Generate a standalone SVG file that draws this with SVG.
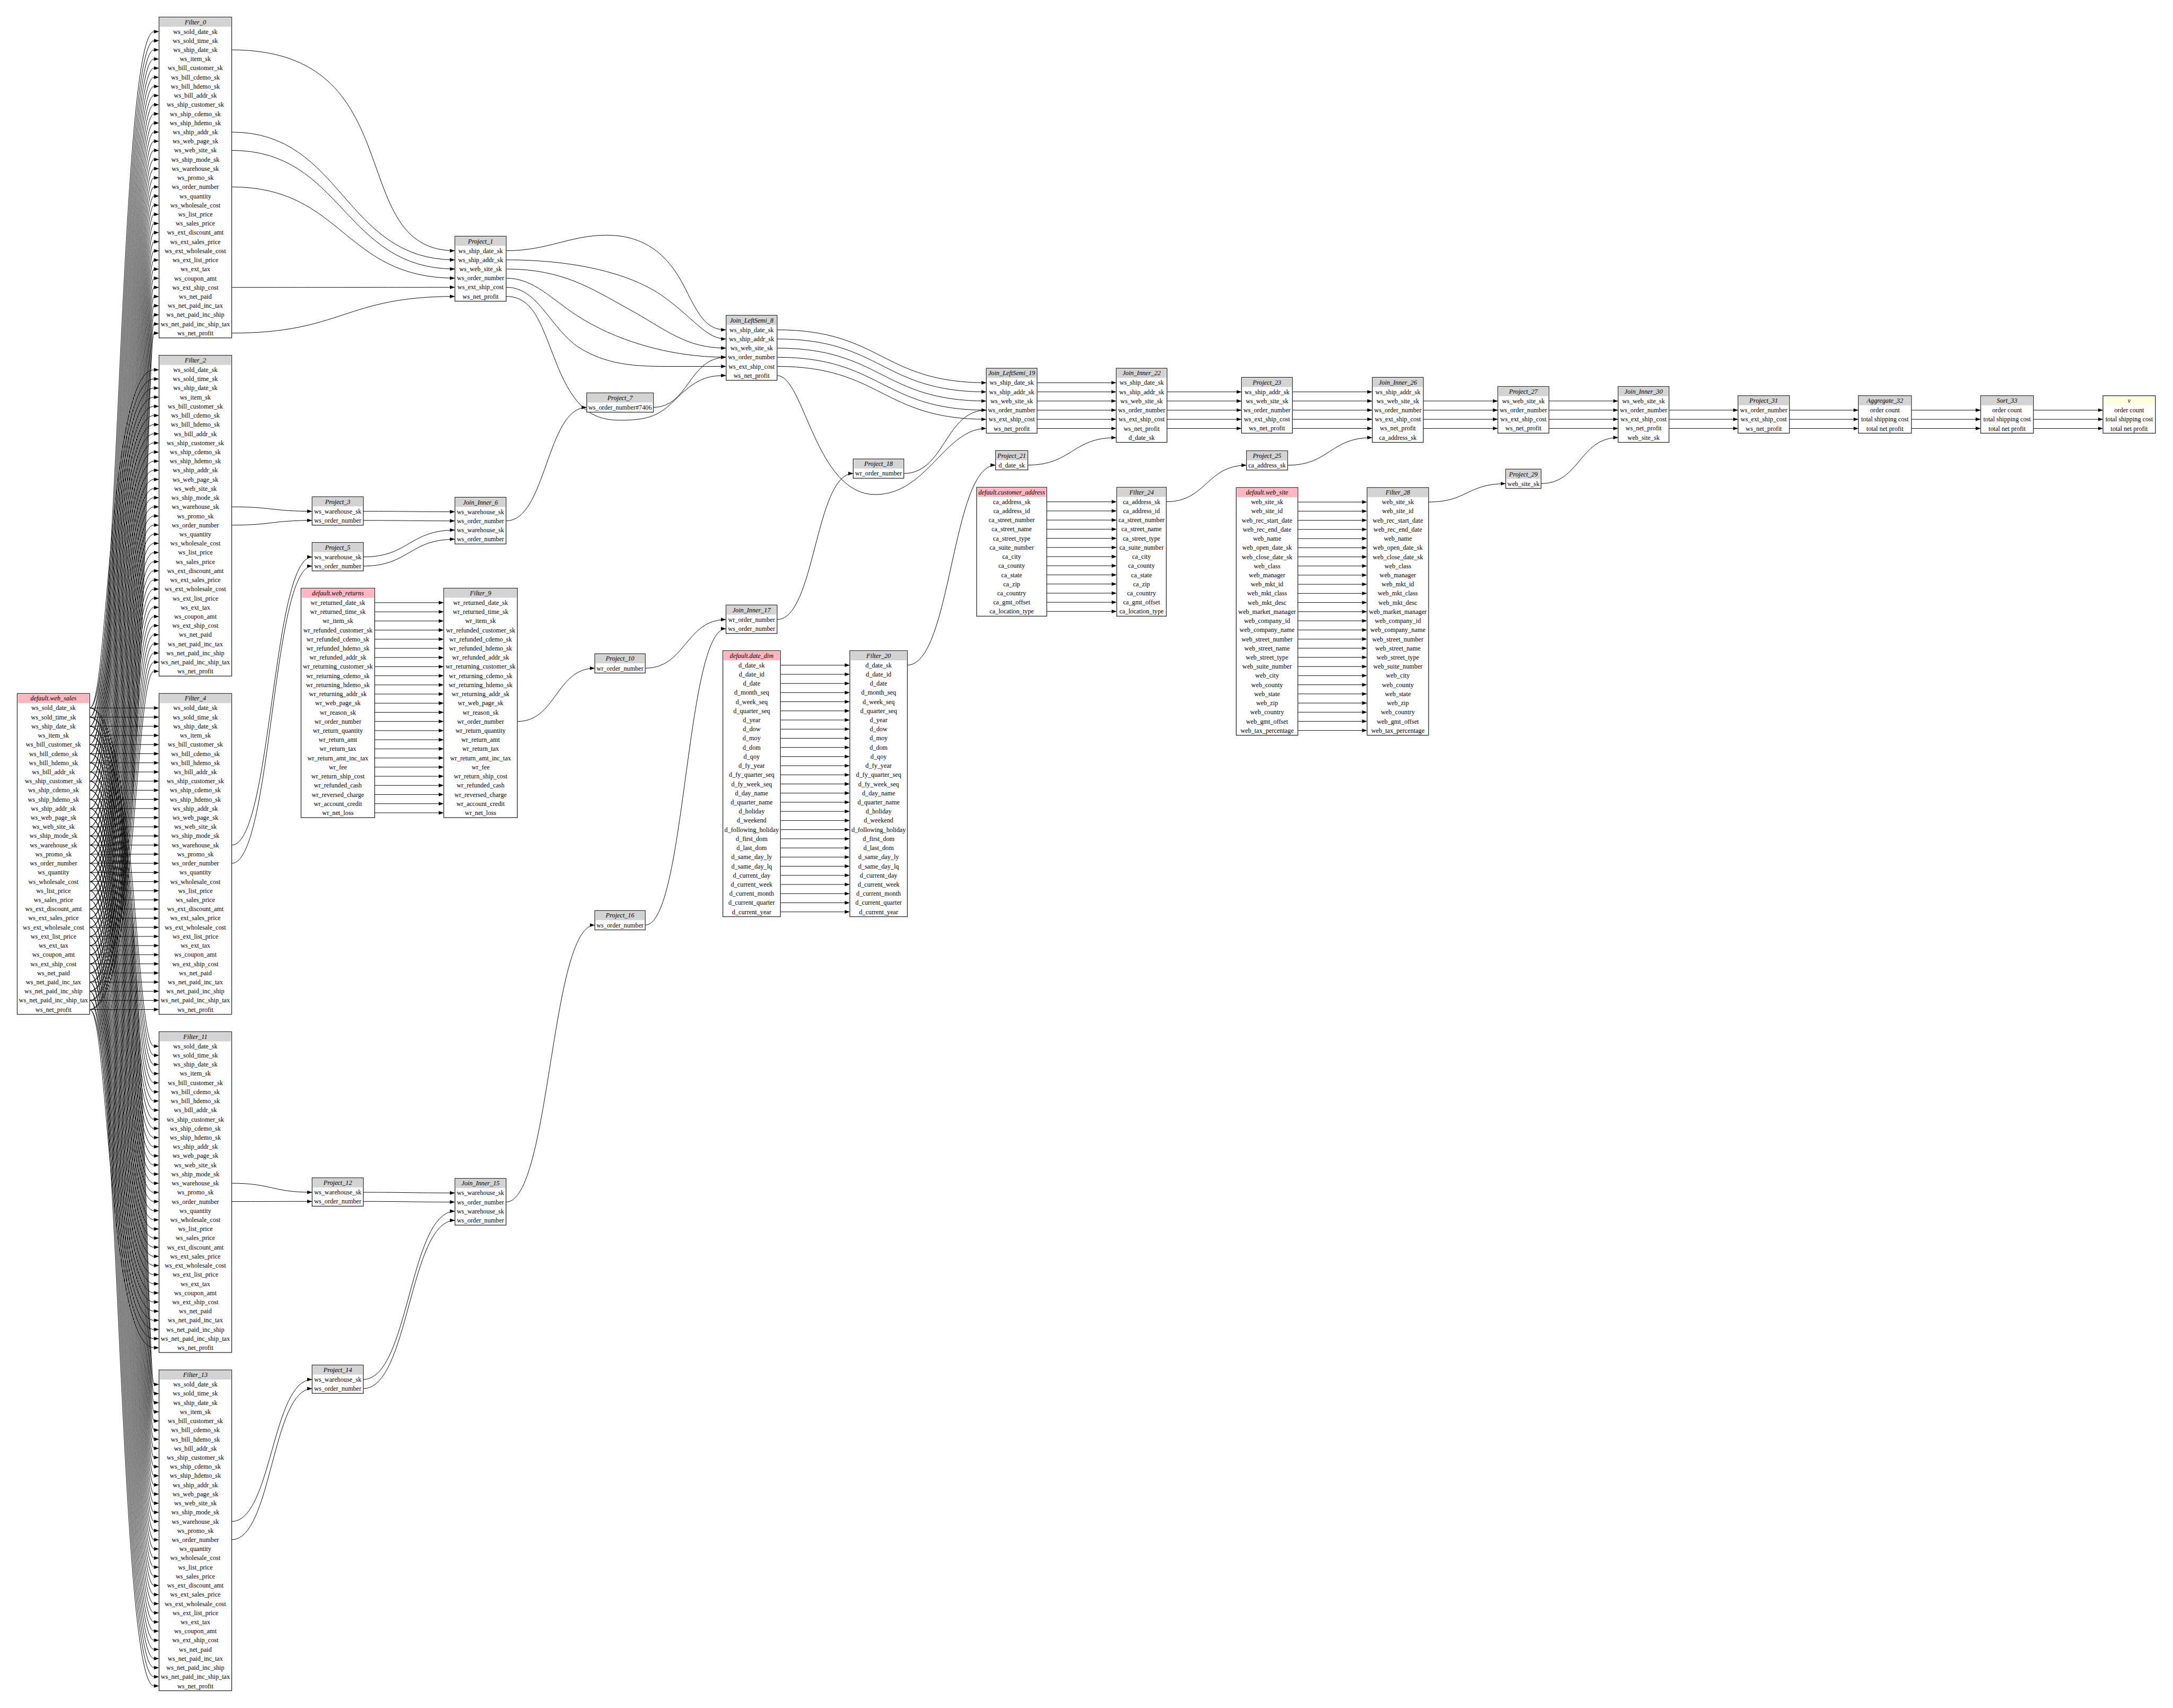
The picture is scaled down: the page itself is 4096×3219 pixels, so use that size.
<svg xmlns="http://www.w3.org/2000/svg" xmlns:xlink="http://www.w3.org/1999/xlink" width="4096" height="3219" viewBox="0 0 4096 3219">
<style>
.bx{fill:#fff;stroke:#333;stroke-width:2}
.hg{fill:#d3d3d3}.hp{fill:#ffb6c1}.hy{fill:#ffffe0}
text{font-family:"Liberation Serif","Times New Roman",serif;font-size:18px;text-anchor:middle;fill:#000}
.ti{font-style:italic}
.e{fill:none;stroke:#000;stroke-width:1.4;marker-end:url(#ah)}
.ln{fill:none;stroke:#000;stroke-width:1.4}
.ar{fill:#000}
</style>
<defs>
<marker id="ah" viewBox="0 0 14 10" refX="14" refY="5" markerWidth="14" markerHeight="10" markerUnits="userSpaceOnUse" orient="auto"><path d="M0,0L14,5L0,10z"/></marker>
<path id="a34" class="ar" d="M0,-5l14,5-14,5z
m0,25.33l14,5-14,5zm0,25.33l14,5-14,5zm0,25.33l14,5-14,5zm0,25.33l14,5-14,5zm0,25.33l14,5-14,5z
m0,25.33l14,5-14,5zm0,25.33l14,5-14,5zm0,25.33l14,5-14,5zm0,25.33l14,5-14,5zm0,25.33l14,5-14,5z
m0,25.33l14,5-14,5zm0,25.33l14,5-14,5zm0,25.33l14,5-14,5zm0,25.33l14,5-14,5zm0,25.33l14,5-14,5z
m0,25.33l14,5-14,5zm0,25.33l14,5-14,5zm0,25.33l14,5-14,5zm0,25.33l14,5-14,5zm0,25.33l14,5-14,5z
m0,25.33l14,5-14,5zm0,25.33l14,5-14,5zm0,25.33l14,5-14,5zm0,25.33l14,5-14,5zm0,25.33l14,5-14,5z
m0,25.33l14,5-14,5zm0,25.33l14,5-14,5zm0,25.33l14,5-14,5zm0,25.33l14,5-14,5zm0,25.33l14,5-14,5z
m0,25.33l14,5-14,5zm0,25.33l14,5-14,5zm0,25.33l14,5-14,5z"/>
<path id="a28" class="ar" d="M0,-5l14,5-14,5z
m0,25.33l14,5-14,5zm0,25.33l14,5-14,5zm0,25.33l14,5-14,5zm0,25.33l14,5-14,5zm0,25.33l14,5-14,5z
m0,25.33l14,5-14,5zm0,25.33l14,5-14,5zm0,25.33l14,5-14,5zm0,25.33l14,5-14,5zm0,25.33l14,5-14,5z
m0,25.33l14,5-14,5zm0,25.33l14,5-14,5zm0,25.33l14,5-14,5zm0,25.33l14,5-14,5zm0,25.33l14,5-14,5z
m0,25.33l14,5-14,5zm0,25.33l14,5-14,5zm0,25.33l14,5-14,5zm0,25.33l14,5-14,5zm0,25.33l14,5-14,5z
m0,25.33l14,5-14,5zm0,25.33l14,5-14,5zm0,25.33l14,5-14,5zm0,25.33l14,5-14,5zm0,25.33l14,5-14,5z
m0,25.33l14,5-14,5zm0,25.33l14,5-14,5z"/>
<path id="a26" class="ar" d="M0,-5l14,5-14,5z
m0,25.33l14,5-14,5zm0,25.33l14,5-14,5zm0,25.33l14,5-14,5zm0,25.33l14,5-14,5zm0,25.33l14,5-14,5z
m0,25.33l14,5-14,5zm0,25.33l14,5-14,5zm0,25.33l14,5-14,5zm0,25.33l14,5-14,5zm0,25.33l14,5-14,5z
m0,25.33l14,5-14,5zm0,25.33l14,5-14,5zm0,25.33l14,5-14,5zm0,25.33l14,5-14,5zm0,25.33l14,5-14,5z
m0,25.33l14,5-14,5zm0,25.33l14,5-14,5zm0,25.33l14,5-14,5zm0,25.33l14,5-14,5zm0,25.33l14,5-14,5z
m0,25.33l14,5-14,5zm0,25.33l14,5-14,5zm0,25.33l14,5-14,5zm0,25.33l14,5-14,5zm0,25.33l14,5-14,5z"/>
<path id="a24" class="ar" d="M0,-5l14,5-14,5z
m0,25.33l14,5-14,5zm0,25.33l14,5-14,5zm0,25.33l14,5-14,5zm0,25.33l14,5-14,5zm0,25.33l14,5-14,5z
m0,25.33l14,5-14,5zm0,25.33l14,5-14,5zm0,25.33l14,5-14,5zm0,25.33l14,5-14,5zm0,25.33l14,5-14,5z
m0,25.33l14,5-14,5zm0,25.33l14,5-14,5zm0,25.33l14,5-14,5zm0,25.33l14,5-14,5zm0,25.33l14,5-14,5z
m0,25.33l14,5-14,5zm0,25.33l14,5-14,5zm0,25.33l14,5-14,5zm0,25.33l14,5-14,5zm0,25.33l14,5-14,5z
m0,25.33l14,5-14,5zm0,25.33l14,5-14,5zm0,25.33l14,5-14,5z"/>
<path id="a13" class="ar" d="M0,-5l14,5-14,5z
m0,25.33l14,5-14,5zm0,25.33l14,5-14,5zm0,25.33l14,5-14,5zm0,25.33l14,5-14,5zm0,25.33l14,5-14,5z
m0,25.33l14,5-14,5zm0,25.33l14,5-14,5zm0,25.33l14,5-14,5zm0,25.33l14,5-14,5zm0,25.33l14,5-14,5z
m0,25.33l14,5-14,5zm0,25.33l14,5-14,5z"/>
</defs>
<rect width="4096" height="3219" fill="#fff"/>
<g transform="scale(0.67983)">
<g id="connectors">
<path class="ln" d="M248.6,1962.77c81.4,0 81.4,-1875.2 178.4,-1875.2
m-178.4,1900.53c83.7,0 83.7,-1875.2 178.4,-1875.2m-178.4,1900.53c86,0 86,-1875.2 178.4,-1875.2
m-178.4,1900.53c88.2,0 88.2,-1875.2 178.4,-1875.2m-178.4,1900.53c90.5,0 90.5,-1875.2 178.4,-1875.2
m-178.4,1900.53c92.8,0 92.8,-1875.2 178.4,-1875.2m-178.4,1900.53c95,0 95,-1875.2 178.4,-1875.2
m-178.4,1900.53c97.3,0 97.3,-1875.2 178.4,-1875.2m-178.4,1900.53c99.6,0 99.6,-1875.2 178.4,-1875.2
m-178.4,1900.53c101.9,0 101.9,-1875.2 178.4,-1875.2m-178.4,1900.53c104.1,0 104.1,-1875.2 178.4,-1875.2
m-178.4,1900.53c106.4,0 106.4,-1875.2 178.4,-1875.2m-178.4,1900.53c108.7,0 108.7,-1875.2 178.4,-1875.2
m-178.4,1900.53c110.9,0 110.9,-1875.2 178.4,-1875.2m-178.4,1900.53c113.2,0 113.2,-1875.2 178.4,-1875.2
m-178.4,1900.53c115.5,0 115.5,-1875.2 178.4,-1875.2m-178.4,1900.53c117.8,0 117.8,-1875.2 178.4,-1875.2
m-178.4,1900.53c120,0 120,-1875.2 178.4,-1875.2m-178.4,1900.53c122.3,0 122.3,-1875.2 178.4,-1875.2
m-178.4,1900.53c124.6,0 124.6,-1875.2 178.4,-1875.2m-178.4,1900.53c126.9,0 126.9,-1875.2 178.4,-1875.2
m-178.4,1900.53c129.1,0 129.1,-1875.2 178.4,-1875.2m-178.4,1900.53c131.4,0 131.4,-1875.2 178.4,-1875.2
m-178.4,1900.53c133.7,0 133.7,-1875.2 178.4,-1875.2m-178.4,1900.53c135.9,0 135.9,-1875.2 178.4,-1875.2
m-178.4,1900.53c138.2,0 138.2,-1875.2 178.4,-1875.2m-178.4,1900.53c140.5,0 140.5,-1875.2 178.4,-1875.2
m-178.4,1900.53c142.8,0 142.8,-1875.2 178.4,-1875.2m-178.4,1900.53c145,0 145,-1875.2 178.4,-1875.2
m-178.4,1900.53c147.3,0 147.3,-1875.2 178.4,-1875.2m-178.4,1900.53c149.6,0 149.6,-1875.2 178.4,-1875.2
m-178.4,1900.53c151.9,0 151.9,-1875.2 178.4,-1875.2m-178.4,1900.53c154.1,0 154.1,-1875.2 178.4,-1875.2
m-178.4,1900.53c156.4,0 156.4,-1875.2 178.4,-1875.2"/>
<path class="ln" d="M248.6,1962.77c51.4,0 51.4,-937.6 178.4,-937.6
m-178.4,962.93c53.7,0 53.7,-937.6 178.4,-937.6m-178.4,962.93c56,0 56,-937.6 178.4,-937.6
m-178.4,962.93c58.2,0 58.2,-937.6 178.4,-937.6m-178.4,962.93c60.5,0 60.5,-937.6 178.4,-937.6
m-178.4,962.93c62.8,0 62.8,-937.6 178.4,-937.6m-178.4,962.93c65,0 65,-937.6 178.4,-937.6
m-178.4,962.93c67.3,0 67.3,-937.6 178.4,-937.6m-178.4,962.93c69.6,0 69.6,-937.6 178.4,-937.6
m-178.4,962.93c71.9,0 71.9,-937.6 178.4,-937.6m-178.4,962.93c74.1,0 74.1,-937.6 178.4,-937.6
m-178.4,962.93c76.4,0 76.4,-937.6 178.4,-937.6m-178.4,962.93c78.7,0 78.7,-937.6 178.4,-937.6
m-178.4,962.93c80.9,0 80.9,-937.6 178.4,-937.6m-178.4,962.93c83.2,0 83.2,-937.6 178.4,-937.6
m-178.4,962.93c85.5,0 85.5,-937.6 178.4,-937.6m-178.4,962.93c87.8,0 87.8,-937.6 178.4,-937.6
m-178.4,962.93c90,0 90,-937.6 178.4,-937.6m-178.4,962.93c92.3,0 92.3,-937.6 178.4,-937.6
m-178.4,962.93c94.6,0 94.6,-937.6 178.4,-937.6m-178.4,962.93c96.9,0 96.9,-937.6 178.4,-937.6
m-178.4,962.93c99.1,0 99.1,-937.6 178.4,-937.6m-178.4,962.93c101.4,0 101.4,-937.6 178.4,-937.6
m-178.4,962.93c103.7,0 103.7,-937.6 178.4,-937.6m-178.4,962.93c105.9,0 105.9,-937.6 178.4,-937.6
m-178.4,962.93c108.2,0 108.2,-937.6 178.4,-937.6m-178.4,962.93c110.5,0 110.5,-937.6 178.4,-937.6
m-178.4,962.93c112.8,0 112.8,-937.6 178.4,-937.6m-178.4,962.93c115,0 115,-937.6 178.4,-937.6
m-178.4,962.93c117.3,0 117.3,-937.6 178.4,-937.6m-178.4,962.93c119.6,0 119.6,-937.6 178.4,-937.6
m-178.4,962.93c121.9,0 121.9,-937.6 178.4,-937.6m-178.4,962.93c124.1,0 124.1,-937.6 178.4,-937.6
m-178.4,962.93c126.4,0 126.4,-937.6 178.4,-937.6"/>
<path class="ln" d="M248.6,1962.77h178.4
m-178.4,25.33h178.4m-178.4,25.33h178.4m-178.4,25.33h178.4m-178.4,25.33h178.4m-178.4,25.33h178.4
m-178.4,25.33h178.4m-178.4,25.33h178.4m-178.4,25.33h178.4m-178.4,25.33h178.4m-178.4,25.33h178.4
m-178.4,25.33h178.4m-178.4,25.33h178.4m-178.4,25.33h178.4m-178.4,25.33h178.4m-178.4,25.33h178.4
m-178.4,25.33h178.4m-178.4,25.33h178.4m-178.4,25.33h178.4m-178.4,25.33h178.4m-178.4,25.33h178.4
m-178.4,25.33h178.4m-178.4,25.33h178.4m-178.4,25.33h178.4m-178.4,25.33h178.4m-178.4,25.33h178.4
m-178.4,25.33h178.4m-178.4,25.33h178.4m-178.4,25.33h178.4m-178.4,25.33h178.4m-178.4,25.33h178.4
m-178.4,25.33h178.4m-178.4,25.33h178.4m-178.4,25.33h178.4"/>
<path class="ln" d="M248.6,1962.77c126.4,0 126.4,937.6 178.4,937.6
m-178.4,-912.27c124.1,0 124.1,937.6 178.4,937.6m-178.4,-912.27c121.9,0 121.9,937.6 178.4,937.6
m-178.4,-912.27c119.6,0 119.6,937.6 178.4,937.6m-178.4,-912.27c117.3,0 117.3,937.6 178.4,937.6
m-178.4,-912.27c115,0 115,937.6 178.4,937.6m-178.4,-912.27c112.8,0 112.8,937.6 178.4,937.6
m-178.4,-912.27c110.5,0 110.5,937.6 178.4,937.6m-178.4,-912.27c108.2,0 108.2,937.6 178.4,937.6
m-178.4,-912.27c105.9,0 105.9,937.6 178.4,937.6m-178.4,-912.27c103.7,0 103.7,937.6 178.4,937.6
m-178.4,-912.27c101.4,0 101.4,937.6 178.4,937.6m-178.4,-912.27c99.1,0 99.1,937.6 178.4,937.6
m-178.4,-912.27c96.9,0 96.9,937.6 178.4,937.6m-178.4,-912.27c94.6,0 94.6,937.6 178.4,937.6
m-178.4,-912.27c92.3,0 92.3,937.6 178.4,937.6m-178.4,-912.27c90,0 90,937.6 178.4,937.6
m-178.4,-912.27c87.8,0 87.8,937.6 178.4,937.6m-178.4,-912.27c85.5,0 85.5,937.6 178.4,937.6
m-178.4,-912.27c83.2,0 83.2,937.6 178.4,937.6m-178.4,-912.27c80.9,0 80.9,937.6 178.4,937.6
m-178.4,-912.27c78.7,0 78.7,937.6 178.4,937.6m-178.4,-912.27c76.4,0 76.4,937.6 178.4,937.6
m-178.4,-912.27c74.1,0 74.1,937.6 178.4,937.6m-178.4,-912.27c71.9,0 71.9,937.6 178.4,937.6
m-178.4,-912.27c69.6,0 69.6,937.6 178.4,937.6m-178.4,-912.27c67.3,0 67.3,937.6 178.4,937.6
m-178.4,-912.27c65,0 65,937.6 178.4,937.6m-178.4,-912.27c62.8,0 62.8,937.6 178.4,937.6
m-178.4,-912.27c60.5,0 60.5,937.6 178.4,937.6m-178.4,-912.27c58.2,0 58.2,937.6 178.4,937.6
m-178.4,-912.27c56,0 56,937.6 178.4,937.6m-178.4,-912.27c53.7,0 53.7,937.6 178.4,937.6
m-178.4,-912.27c51.4,0 51.4,937.6 178.4,937.6"/>
<path class="ln" d="M248.6,1962.77c156.4,0 156.4,1875.2 178.4,1875.2
m-178.4,-1849.87c154.1,0 154.1,1875.2 178.4,1875.2m-178.4,-1849.87c151.9,0 151.9,1875.2 178.4,1875.2
m-178.4,-1849.87c149.6,0 149.6,1875.2 178.4,1875.2m-178.4,-1849.87c147.3,0 147.3,1875.2 178.4,1875.2
m-178.4,-1849.87c145,0 145,1875.2 178.4,1875.2m-178.4,-1849.87c142.8,0 142.8,1875.2 178.4,1875.2
m-178.4,-1849.87c140.5,0 140.5,1875.2 178.4,1875.2m-178.4,-1849.87c138.2,0 138.2,1875.2 178.4,1875.2
m-178.4,-1849.87c135.9,0 135.9,1875.2 178.4,1875.2m-178.4,-1849.87c133.7,0 133.7,1875.2 178.4,1875.2
m-178.4,-1849.87c131.4,0 131.4,1875.2 178.4,1875.2m-178.4,-1849.87c129.1,0 129.1,1875.2 178.4,1875.2
m-178.4,-1849.87c126.9,0 126.9,1875.2 178.4,1875.2m-178.4,-1849.87c124.6,0 124.6,1875.2 178.4,1875.2
m-178.4,-1849.87c122.3,0 122.3,1875.2 178.4,1875.2m-178.4,-1849.87c120,0 120,1875.2 178.4,1875.2
m-178.4,-1849.87c117.8,0 117.8,1875.2 178.4,1875.2m-178.4,-1849.87c115.5,0 115.5,1875.2 178.4,1875.2
m-178.4,-1849.87c113.2,0 113.2,1875.2 178.4,1875.2m-178.4,-1849.87c110.9,0 110.9,1875.2 178.4,1875.2
m-178.4,-1849.87c108.7,0 108.7,1875.2 178.4,1875.2m-178.4,-1849.87c106.4,0 106.4,1875.2 178.4,1875.2
m-178.4,-1849.87c104.1,0 104.1,1875.2 178.4,1875.2m-178.4,-1849.87c101.9,0 101.9,1875.2 178.4,1875.2
m-178.4,-1849.87c99.6,0 99.6,1875.2 178.4,1875.2m-178.4,-1849.87c97.3,0 97.3,1875.2 178.4,1875.2
m-178.4,-1849.87c95,0 95,1875.2 178.4,1875.2m-178.4,-1849.87c92.8,0 92.8,1875.2 178.4,1875.2
m-178.4,-1849.87c90.5,0 90.5,1875.2 178.4,1875.2m-178.4,-1849.87c88.2,0 88.2,1875.2 178.4,1875.2
m-178.4,-1849.87c86,0 86,1875.2 178.4,1875.2m-178.4,-1849.87c83.7,0 83.7,1875.2 178.4,1875.2
m-178.4,-1849.87c81.4,0 81.4,1875.2 178.4,1875.2"/>
<use href="#a34" x="427" y="87.57"/>
<use href="#a34" x="427" y="1025.17"/>
<use href="#a34" x="427" y="1962.77"/>
<use href="#a34" x="427" y="2900.37"/>
<use href="#a34" x="427" y="3837.97"/>
<path class="ln" d="M1038.9,1670.77h177.5
m-177.5,25.33h177.5m-177.5,25.33h177.5m-177.5,25.33h177.5m-177.5,25.33h177.5m-177.5,25.33h177.5
m-177.5,25.33h177.5m-177.5,25.33h177.5m-177.5,25.33h177.5m-177.5,25.33h177.5m-177.5,25.33h177.5
m-177.5,25.33h177.5m-177.5,25.33h177.5m-177.5,25.33h177.5m-177.5,25.33h177.5m-177.5,25.33h177.5
m-177.5,25.33h177.5m-177.5,25.33h177.5m-177.5,25.33h177.5m-177.5,25.33h177.5m-177.5,25.33h177.5
m-177.5,25.33h177.5m-177.5,25.33h177.5m-177.5,25.33h177.5"/>
<use href="#a24" x="1216.4" y="1670.77"/>
<path class="ln" d="M2163.9,1844.07h178.4
m-178.4,25.33h178.4m-178.4,25.33h178.4m-178.4,25.33h178.4m-178.4,25.33h178.4m-178.4,25.33h178.4
m-178.4,25.33h178.4m-178.4,25.33h178.4m-178.4,25.33h178.4m-178.4,25.33h178.4m-178.4,25.33h178.4
m-178.4,25.33h178.4m-178.4,25.33h178.4m-178.4,25.33h178.4m-178.4,25.33h178.4m-178.4,25.33h178.4
m-178.4,25.33h178.4m-178.4,25.33h178.4m-178.4,25.33h178.4m-178.4,25.33h178.4m-178.4,25.33h178.4
m-178.4,25.33h178.4m-178.4,25.33h178.4m-178.4,25.33h178.4m-178.4,25.33h178.4m-178.4,25.33h178.4
m-178.4,25.33h178.4m-178.4,25.33h178.4"/>
<use href="#a28" x="2342.3" y="1844.07"/>
<path class="ln" d="M2902.3,1391.07h180.1
m-180.1,25.33h180.1m-180.1,25.33h180.1m-180.1,25.33h180.1m-180.1,25.33h180.1m-180.1,25.33h180.1
m-180.1,25.33h180.1m-180.1,25.33h180.1m-180.1,25.33h180.1m-180.1,25.33h180.1m-180.1,25.33h180.1
m-180.1,25.33h180.1m-180.1,25.33h180.1"/>
<use href="#a13" x="3082.4" y="1391.07"/>
<path class="ln" d="M3598.6,1391.77h178
m-178,25.33h178m-178,25.33h178m-178,25.33h178m-178,25.33h178m-178,25.33h178
m-178,25.33h178m-178,25.33h178m-178,25.33h178m-178,25.33h178m-178,25.33h178
m-178,25.33h178m-178,25.33h178m-178,25.33h178m-178,25.33h178m-178,25.33h178
m-178,25.33h178m-178,25.33h178m-178,25.33h178m-178,25.33h178m-178,25.33h178
m-178,25.33h178m-178,25.33h178m-178,25.33h178m-178,25.33h178m-178,25.33h178"/>
<use href="#a26" x="3776.6" y="1391.77"/>
<path class="e" d="M642.3,138.23C1150,138.23 950,695.07 1261.4,695.07"/>
<path class="e" d="M642.3,366.2C951.9,366.2 951.9,720.4 1261.4,720.4"/>
<path class="e" d="M642.3,416.86C951.9,416.86 951.9,745.73 1261.4,745.73"/>
<path class="e" d="M642.3,518.18C951.9,518.18 951.9,771.06 1261.4,771.06"/>
<path class="e" d="M642.3,796.81C951.9,796.81 951.9,796.4 1261.4,796.4"/>
<path class="e" d="M642.3,923.46C951.9,923.46 951.9,821.73 1261.4,821.73"/>
<path class="e" d="M642.3,1405.12C753.9,1405.12 753.9,1417.37 865.5,1417.37"/>
<path class="e" d="M642.3,1455.78C753.9,1455.78 753.9,1442.7 865.5,1442.7"/>
<path class="e" d="M642.3,2342.72C753.9,2342.72 753.9,1544.07 865.5,1544.07"/>
<path class="e" d="M642.3,2393.38C753.9,2393.38 753.9,1569.4 865.5,1569.4"/>
<path class="e" d="M642.3,3280.32C753.9,3280.32 753.9,3305.37 865.5,3305.37"/>
<path class="e" d="M642.3,3330.98C753.9,3330.98 753.9,3330.7 865.5,3330.7"/>
<path class="e" d="M642.3,4217.92C753.9,4217.92 753.9,3824.27 865.5,3824.27"/>
<path class="e" d="M642.3,4268.58C753.9,4268.58 753.9,3849.6 865.5,3849.6"/>
<path class="e" d="M1007.3,1417.37C1134.4,1417.37 1134.4,1418.77 1261.5,1418.77"/>
<path class="e" d="M1007.3,1442.7C1134.4,1442.7 1134.4,1444.1 1261.5,1444.1"/>
<path class="e" d="M1007.3,1544.07C1134.4,1544.07 1134.4,1469.43 1261.5,1469.43"/>
<path class="e" d="M1007.3,1569.4C1134.4,1569.4 1134.4,1494.76 1261.5,1494.76"/>
<path class="e" d="M1007.3,3305.37C1134.4,3305.37 1134.4,3307.07 1261.5,3307.07"/>
<path class="e" d="M1007.3,3330.7C1134.4,3330.7 1134.4,3332.4 1261.5,3332.4"/>
<path class="e" d="M1007.3,3824.27C1134.4,3824.27 1134.4,3357.73 1261.5,3357.73"/>
<path class="e" d="M1007.3,3849.6C1134.4,3849.6 1134.4,3383.06 1261.5,3383.06"/>
<path class="e" d="M1403,1444.1C1515,1444.1 1515,1129.37 1626.8,1129.37"/>
<path class="e" d="M1403,3332.4C1526,3332.4 1526,2564.57 1649.3,2564.57"/>
<path class="e" d="M1434.5,2000.06C1541.9,2000.06 1541.9,1852.57 1649.3,1852.57"/>
<path class="e" d="M1789,1852.57C1901,1852.57 1901,1717.47 2013,1717.47"/>
<path class="e" d="M1789,2564.57C1901,2564.57 1901,1742.8 2013,1742.8"/>
<path class="e" d="M2154.5,1717.47C2260,1717.47 2260,1312.57 2365.7,1312.57"/>
<path class="e" d="M1403.4,695.07C1520,695.07 1580,652 1682,652C1800,652 1860,720 1900,800C1940,880 1960,914.37 2013.3,914.37"/>
<path class="e" d="M1403.4,720.4C1600,720.4 1760,760 1850,830C1930,890 1960,939.7 2013.3,939.7"/>
<path class="e" d="M1403.4,745.73C1560,745.73 1640,800 1740,855C1850,915 1900,965.03 2013.3,965.03"/>
<path class="e" d="M1403.4,771.06C1480,771.06 1530,830 1600,875C1700,940 1850,990.36 2013.3,990.36"/>
<path class="e" d="M1403.4,796.4C1490,796.4 1520,900 1600,960C1680,1012 1760,1015.69 1850,1015.69L2013.3,1015.69"/>
<path class="e" d="M1403.4,821.73C1480,821.73 1500,900 1540,1000C1590,1130 1640,1165 1720,1165C1800,1165 1830,1150 1870,1110C1930,1050 1960,1041.02 2013.3,1041.02"/>
<path class="e" d="M1811.6,1129.37C1910,1129.37 1910,990.36 2013.3,990.36"/>
<path class="e" d="M2154.5,914.37C2444.6,914.37 2444.6,1061.07 2734.8,1061.07"/>
<path class="e" d="M2154.5,939.7C2444.6,939.7 2444.6,1086.4 2734.8,1086.4"/>
<path class="e" d="M2154.5,965.03C2444.6,965.03 2444.6,1111.73 2734.8,1111.73"/>
<path class="e" d="M2154.5,990.36C2444.6,990.36 2444.6,1137.06 2734.8,1137.06"/>
<path class="e" d="M2154.5,1015.69C2444.6,1015.69 2444.6,1162.39 2734.8,1162.39"/>
<path class="e" d="M2154.5,1041.02C2230,1041.02 2260,1371 2427,1371C2570,1371 2620,1187.72 2734.8,1187.72"/>
<path class="e" d="M2505.9,1312.57C2620,1312.57 2620,1137.06 2734.8,1137.06"/>
<path class="e" d="M2515.9,1844.07C2638,1844.07 2638,1289.37 2760.4,1289.37"/>
<path class="e" d="M2875.4,1061.07H3095"/>
<path class="e" d="M2875.4,1086.4H3095"/>
<path class="e" d="M2875.4,1111.73H3095"/>
<path class="e" d="M2875.4,1137.06H3095"/>
<path class="e" d="M2875.4,1162.39H3095"/>
<path class="e" d="M2875.4,1187.72H3095"/>
<path class="e" d="M2849.9,1289.37C2972,1289.37 2972,1213.05 3095,1213.05"/>
<path class="e" d="M3233.8,1391.07C3345,1391.07 3345,1289.77 3456.2,1289.77"/>
<path class="e" d="M3235.7,1086.4H3442.4"/>
<path class="e" d="M3235.7,1111.73H3442.4"/>
<path class="e" d="M3235.7,1137.06H3442.4"/>
<path class="e" d="M3235.7,1162.39H3442.4"/>
<path class="e" d="M3235.7,1187.72H3442.4"/>
<path class="e" d="M3583.5,1086.37H3805"/>
<path class="e" d="M3583.5,1111.7H3805"/>
<path class="e" d="M3583.5,1137.03H3805"/>
<path class="e" d="M3583.5,1162.36H3805"/>
<path class="e" d="M3583.5,1187.69H3805"/>
<path class="e" d="M3570,1289.77C3687,1289.77 3687,1213.02 3805,1213.02"/>
<path class="e" d="M3961,1391.77C4068,1391.77 4068,1340.77 4175,1340.77"/>
<path class="e" d="M3946.4,1111.7H4153.1"/>
<path class="e" d="M3946.4,1137.03H4153.1"/>
<path class="e" d="M3946.4,1162.36H4153.1"/>
<path class="e" d="M3946.4,1187.69H4153.1"/>
<path class="e" d="M4294.6,1111.67H4486.6"/>
<path class="e" d="M4294.6,1137H4486.6"/>
<path class="e" d="M4294.6,1162.33H4486.6"/>
<path class="e" d="M4294.6,1187.66H4486.6"/>
<path class="e" d="M4272.8,1340.77C4380,1340.77 4380,1212.99 4486.6,1212.99"/>
<path class="e" d="M4627.6,1137H4819"/>
<path class="e" d="M4627.6,1162.33H4819"/>
<path class="e" d="M4627.6,1187.66H4819"/>
<path class="e" d="M4961.5,1137.07H5152.8"/>
<path class="e" d="M4961.5,1162.4H5152.8"/>
<path class="e" d="M4961.5,1187.73H5152.8"/>
<path class="e" d="M5299.7,1137.07H5491.8"/>
<path class="e" d="M5299.7,1162.4H5491.8"/>
<path class="e" d="M5299.7,1187.73H5491.8"/>
<path class="e" d="M5638,1137.07H5830.9"/>
<path class="e" d="M5638,1162.4H5830.9"/>
<path class="e" d="M5638,1187.73H5830.9"/>
</g>

<g id="default.web_sales" transform="translate(148.2,1922.7)">
<rect class="bx" x="-100.4" width="200.8" height="889.22"/><rect class="hp" x="-98.4" y="2" width="196.8" height="24.5"/>
<text class="ti" y="19.5">default.web_sales</text>
<text y="46.07"><tspan x="0">ws_sold_date_sk</tspan><tspan x="0" dy="25.33">ws_sold_time_sk</tspan><tspan x="0" dy="25.33">ws_ship_date_sk</tspan><tspan x="0" dy="25.33">ws_item_sk</tspan><tspan x="0" dy="25.33">ws_bill_customer_sk</tspan><tspan x="0" dy="25.33">ws_bill_cdemo_sk</tspan><tspan x="0" dy="25.33">ws_bill_hdemo_sk</tspan><tspan x="0" dy="25.33">ws_bill_addr_sk</tspan><tspan x="0" dy="25.33">ws_ship_customer_sk</tspan><tspan x="0" dy="25.33">ws_ship_cdemo_sk</tspan><tspan x="0" dy="25.33">ws_ship_hdemo_sk</tspan><tspan x="0" dy="25.33">ws_ship_addr_sk</tspan><tspan x="0" dy="25.33">ws_web_page_sk</tspan><tspan x="0" dy="25.33">ws_web_site_sk</tspan><tspan x="0" dy="25.33">ws_ship_mode_sk</tspan><tspan x="0" dy="25.33">ws_warehouse_sk</tspan><tspan x="0" dy="25.33">ws_promo_sk</tspan><tspan x="0" dy="25.33">ws_order_number</tspan><tspan x="0" dy="25.33">ws_quantity</tspan><tspan x="0" dy="25.33">ws_wholesale_cost</tspan><tspan x="0" dy="25.33">ws_list_price</tspan><tspan x="0" dy="25.33">ws_sales_price</tspan><tspan x="0" dy="25.33">ws_ext_discount_amt</tspan><tspan x="0" dy="25.33">ws_ext_sales_price</tspan><tspan x="0" dy="25.33">ws_ext_wholesale_cost</tspan><tspan x="0" dy="25.33">ws_ext_list_price</tspan><tspan x="0" dy="25.33">ws_ext_tax</tspan><tspan x="0" dy="25.33">ws_coupon_amt</tspan><tspan x="0" dy="25.33">ws_ext_ship_cost</tspan><tspan x="0" dy="25.33">ws_net_paid</tspan><tspan x="0" dy="25.33">ws_net_paid_inc_tax</tspan><tspan x="0" dy="25.33">ws_net_paid_inc_ship</tspan><tspan x="0" dy="25.33">ws_net_paid_inc_ship_tax</tspan><tspan x="0" dy="25.33">ws_net_profit</tspan></text>
</g>

<g id="Filter_0" transform="translate(541.65,47.5)">
<rect class="bx" x="-100.65" width="201.3" height="889.22"/><rect class="hg" x="-98.65" y="2" width="197.3" height="24.5"/>
<text class="ti" y="19.5">Filter_0</text>
<text y="46.07"><tspan x="0">ws_sold_date_sk</tspan><tspan x="0" dy="25.33">ws_sold_time_sk</tspan><tspan x="0" dy="25.33">ws_ship_date_sk</tspan><tspan x="0" dy="25.33">ws_item_sk</tspan><tspan x="0" dy="25.33">ws_bill_customer_sk</tspan><tspan x="0" dy="25.33">ws_bill_cdemo_sk</tspan><tspan x="0" dy="25.33">ws_bill_hdemo_sk</tspan><tspan x="0" dy="25.33">ws_bill_addr_sk</tspan><tspan x="0" dy="25.33">ws_ship_customer_sk</tspan><tspan x="0" dy="25.33">ws_ship_cdemo_sk</tspan><tspan x="0" dy="25.33">ws_ship_hdemo_sk</tspan><tspan x="0" dy="25.33">ws_ship_addr_sk</tspan><tspan x="0" dy="25.33">ws_web_page_sk</tspan><tspan x="0" dy="25.33">ws_web_site_sk</tspan><tspan x="0" dy="25.33">ws_ship_mode_sk</tspan><tspan x="0" dy="25.33">ws_warehouse_sk</tspan><tspan x="0" dy="25.33">ws_promo_sk</tspan><tspan x="0" dy="25.33">ws_order_number</tspan><tspan x="0" dy="25.33">ws_quantity</tspan><tspan x="0" dy="25.33">ws_wholesale_cost</tspan><tspan x="0" dy="25.33">ws_list_price</tspan><tspan x="0" dy="25.33">ws_sales_price</tspan><tspan x="0" dy="25.33">ws_ext_discount_amt</tspan><tspan x="0" dy="25.33">ws_ext_sales_price</tspan><tspan x="0" dy="25.33">ws_ext_wholesale_cost</tspan><tspan x="0" dy="25.33">ws_ext_list_price</tspan><tspan x="0" dy="25.33">ws_ext_tax</tspan><tspan x="0" dy="25.33">ws_coupon_amt</tspan><tspan x="0" dy="25.33">ws_ext_ship_cost</tspan><tspan x="0" dy="25.33">ws_net_paid</tspan><tspan x="0" dy="25.33">ws_net_paid_inc_tax</tspan><tspan x="0" dy="25.33">ws_net_paid_inc_ship</tspan><tspan x="0" dy="25.33">ws_net_paid_inc_ship_tax</tspan><tspan x="0" dy="25.33">ws_net_profit</tspan></text>
</g>

<g id="Filter_2" transform="translate(541.65,985.1)">
<rect class="bx" x="-100.65" width="201.3" height="889.22"/><rect class="hg" x="-98.65" y="2" width="197.3" height="24.5"/>
<text class="ti" y="19.5">Filter_2</text>
<text y="46.07"><tspan x="0">ws_sold_date_sk</tspan><tspan x="0" dy="25.33">ws_sold_time_sk</tspan><tspan x="0" dy="25.33">ws_ship_date_sk</tspan><tspan x="0" dy="25.33">ws_item_sk</tspan><tspan x="0" dy="25.33">ws_bill_customer_sk</tspan><tspan x="0" dy="25.33">ws_bill_cdemo_sk</tspan><tspan x="0" dy="25.33">ws_bill_hdemo_sk</tspan><tspan x="0" dy="25.33">ws_bill_addr_sk</tspan><tspan x="0" dy="25.33">ws_ship_customer_sk</tspan><tspan x="0" dy="25.33">ws_ship_cdemo_sk</tspan><tspan x="0" dy="25.33">ws_ship_hdemo_sk</tspan><tspan x="0" dy="25.33">ws_ship_addr_sk</tspan><tspan x="0" dy="25.33">ws_web_page_sk</tspan><tspan x="0" dy="25.33">ws_web_site_sk</tspan><tspan x="0" dy="25.33">ws_ship_mode_sk</tspan><tspan x="0" dy="25.33">ws_warehouse_sk</tspan><tspan x="0" dy="25.33">ws_promo_sk</tspan><tspan x="0" dy="25.33">ws_order_number</tspan><tspan x="0" dy="25.33">ws_quantity</tspan><tspan x="0" dy="25.33">ws_wholesale_cost</tspan><tspan x="0" dy="25.33">ws_list_price</tspan><tspan x="0" dy="25.33">ws_sales_price</tspan><tspan x="0" dy="25.33">ws_ext_discount_amt</tspan><tspan x="0" dy="25.33">ws_ext_sales_price</tspan><tspan x="0" dy="25.33">ws_ext_wholesale_cost</tspan><tspan x="0" dy="25.33">ws_ext_list_price</tspan><tspan x="0" dy="25.33">ws_ext_tax</tspan><tspan x="0" dy="25.33">ws_coupon_amt</tspan><tspan x="0" dy="25.33">ws_ext_ship_cost</tspan><tspan x="0" dy="25.33">ws_net_paid</tspan><tspan x="0" dy="25.33">ws_net_paid_inc_tax</tspan><tspan x="0" dy="25.33">ws_net_paid_inc_ship</tspan><tspan x="0" dy="25.33">ws_net_paid_inc_ship_tax</tspan><tspan x="0" dy="25.33">ws_net_profit</tspan></text>
</g>

<g id="Filter_4" transform="translate(541.65,1922.7)">
<rect class="bx" x="-100.65" width="201.3" height="889.22"/><rect class="hg" x="-98.65" y="2" width="197.3" height="24.5"/>
<text class="ti" y="19.5">Filter_4</text>
<text y="46.07"><tspan x="0">ws_sold_date_sk</tspan><tspan x="0" dy="25.33">ws_sold_time_sk</tspan><tspan x="0" dy="25.33">ws_ship_date_sk</tspan><tspan x="0" dy="25.33">ws_item_sk</tspan><tspan x="0" dy="25.33">ws_bill_customer_sk</tspan><tspan x="0" dy="25.33">ws_bill_cdemo_sk</tspan><tspan x="0" dy="25.33">ws_bill_hdemo_sk</tspan><tspan x="0" dy="25.33">ws_bill_addr_sk</tspan><tspan x="0" dy="25.33">ws_ship_customer_sk</tspan><tspan x="0" dy="25.33">ws_ship_cdemo_sk</tspan><tspan x="0" dy="25.33">ws_ship_hdemo_sk</tspan><tspan x="0" dy="25.33">ws_ship_addr_sk</tspan><tspan x="0" dy="25.33">ws_web_page_sk</tspan><tspan x="0" dy="25.33">ws_web_site_sk</tspan><tspan x="0" dy="25.33">ws_ship_mode_sk</tspan><tspan x="0" dy="25.33">ws_warehouse_sk</tspan><tspan x="0" dy="25.33">ws_promo_sk</tspan><tspan x="0" dy="25.33">ws_order_number</tspan><tspan x="0" dy="25.33">ws_quantity</tspan><tspan x="0" dy="25.33">ws_wholesale_cost</tspan><tspan x="0" dy="25.33">ws_list_price</tspan><tspan x="0" dy="25.33">ws_sales_price</tspan><tspan x="0" dy="25.33">ws_ext_discount_amt</tspan><tspan x="0" dy="25.33">ws_ext_sales_price</tspan><tspan x="0" dy="25.33">ws_ext_wholesale_cost</tspan><tspan x="0" dy="25.33">ws_ext_list_price</tspan><tspan x="0" dy="25.33">ws_ext_tax</tspan><tspan x="0" dy="25.33">ws_coupon_amt</tspan><tspan x="0" dy="25.33">ws_ext_ship_cost</tspan><tspan x="0" dy="25.33">ws_net_paid</tspan><tspan x="0" dy="25.33">ws_net_paid_inc_tax</tspan><tspan x="0" dy="25.33">ws_net_paid_inc_ship</tspan><tspan x="0" dy="25.33">ws_net_paid_inc_ship_tax</tspan><tspan x="0" dy="25.33">ws_net_profit</tspan></text>
</g>

<g id="Filter_11" transform="translate(541.65,2860.3)">
<rect class="bx" x="-100.65" width="201.3" height="889.22"/><rect class="hg" x="-98.65" y="2" width="197.3" height="24.5"/>
<text class="ti" y="19.5">Filter_11</text>
<text y="46.07"><tspan x="0">ws_sold_date_sk</tspan><tspan x="0" dy="25.33">ws_sold_time_sk</tspan><tspan x="0" dy="25.33">ws_ship_date_sk</tspan><tspan x="0" dy="25.33">ws_item_sk</tspan><tspan x="0" dy="25.33">ws_bill_customer_sk</tspan><tspan x="0" dy="25.33">ws_bill_cdemo_sk</tspan><tspan x="0" dy="25.33">ws_bill_hdemo_sk</tspan><tspan x="0" dy="25.33">ws_bill_addr_sk</tspan><tspan x="0" dy="25.33">ws_ship_customer_sk</tspan><tspan x="0" dy="25.33">ws_ship_cdemo_sk</tspan><tspan x="0" dy="25.33">ws_ship_hdemo_sk</tspan><tspan x="0" dy="25.33">ws_ship_addr_sk</tspan><tspan x="0" dy="25.33">ws_web_page_sk</tspan><tspan x="0" dy="25.33">ws_web_site_sk</tspan><tspan x="0" dy="25.33">ws_ship_mode_sk</tspan><tspan x="0" dy="25.33">ws_warehouse_sk</tspan><tspan x="0" dy="25.33">ws_promo_sk</tspan><tspan x="0" dy="25.33">ws_order_number</tspan><tspan x="0" dy="25.33">ws_quantity</tspan><tspan x="0" dy="25.33">ws_wholesale_cost</tspan><tspan x="0" dy="25.33">ws_list_price</tspan><tspan x="0" dy="25.33">ws_sales_price</tspan><tspan x="0" dy="25.33">ws_ext_discount_amt</tspan><tspan x="0" dy="25.33">ws_ext_sales_price</tspan><tspan x="0" dy="25.33">ws_ext_wholesale_cost</tspan><tspan x="0" dy="25.33">ws_ext_list_price</tspan><tspan x="0" dy="25.33">ws_ext_tax</tspan><tspan x="0" dy="25.33">ws_coupon_amt</tspan><tspan x="0" dy="25.33">ws_ext_ship_cost</tspan><tspan x="0" dy="25.33">ws_net_paid</tspan><tspan x="0" dy="25.33">ws_net_paid_inc_tax</tspan><tspan x="0" dy="25.33">ws_net_paid_inc_ship</tspan><tspan x="0" dy="25.33">ws_net_paid_inc_ship_tax</tspan><tspan x="0" dy="25.33">ws_net_profit</tspan></text>
</g>

<g id="Filter_13" transform="translate(541.65,3797.9)">
<rect class="bx" x="-100.65" width="201.3" height="889.22"/><rect class="hg" x="-98.65" y="2" width="197.3" height="24.5"/>
<text class="ti" y="19.5">Filter_13</text>
<text y="46.07"><tspan x="0">ws_sold_date_sk</tspan><tspan x="0" dy="25.33">ws_sold_time_sk</tspan><tspan x="0" dy="25.33">ws_ship_date_sk</tspan><tspan x="0" dy="25.33">ws_item_sk</tspan><tspan x="0" dy="25.33">ws_bill_customer_sk</tspan><tspan x="0" dy="25.33">ws_bill_cdemo_sk</tspan><tspan x="0" dy="25.33">ws_bill_hdemo_sk</tspan><tspan x="0" dy="25.33">ws_bill_addr_sk</tspan><tspan x="0" dy="25.33">ws_ship_customer_sk</tspan><tspan x="0" dy="25.33">ws_ship_cdemo_sk</tspan><tspan x="0" dy="25.33">ws_ship_hdemo_sk</tspan><tspan x="0" dy="25.33">ws_ship_addr_sk</tspan><tspan x="0" dy="25.33">ws_web_page_sk</tspan><tspan x="0" dy="25.33">ws_web_site_sk</tspan><tspan x="0" dy="25.33">ws_ship_mode_sk</tspan><tspan x="0" dy="25.33">ws_warehouse_sk</tspan><tspan x="0" dy="25.33">ws_promo_sk</tspan><tspan x="0" dy="25.33">ws_order_number</tspan><tspan x="0" dy="25.33">ws_quantity</tspan><tspan x="0" dy="25.33">ws_wholesale_cost</tspan><tspan x="0" dy="25.33">ws_list_price</tspan><tspan x="0" dy="25.33">ws_sales_price</tspan><tspan x="0" dy="25.33">ws_ext_discount_amt</tspan><tspan x="0" dy="25.33">ws_ext_sales_price</tspan><tspan x="0" dy="25.33">ws_ext_wholesale_cost</tspan><tspan x="0" dy="25.33">ws_ext_list_price</tspan><tspan x="0" dy="25.33">ws_ext_tax</tspan><tspan x="0" dy="25.33">ws_coupon_amt</tspan><tspan x="0" dy="25.33">ws_ext_ship_cost</tspan><tspan x="0" dy="25.33">ws_net_paid</tspan><tspan x="0" dy="25.33">ws_net_paid_inc_tax</tspan><tspan x="0" dy="25.33">ws_net_paid_inc_ship</tspan><tspan x="0" dy="25.33">ws_net_paid_inc_ship_tax</tspan><tspan x="0" dy="25.33">ws_net_profit</tspan></text>
</g>

<g id="Project_1" transform="translate(1332.4,655)">
<rect class="bx" x="-71" width="142" height="179.98"/><rect class="hg" x="-69" y="2" width="138" height="24.5"/>
<text class="ti" y="19.5">Project_1</text>
<text y="46.07"><tspan x="0">ws_ship_date_sk</tspan><tspan x="0" dy="25.33">ws_ship_addr_sk</tspan><tspan x="0" dy="25.33">ws_web_site_sk</tspan><tspan x="0" dy="25.33">ws_order_number</tspan><tspan x="0" dy="25.33">ws_ext_ship_cost</tspan><tspan x="0" dy="25.33">ws_net_profit</tspan></text>
</g>

<g id="Project_3" transform="translate(936.4,1377.3)">
<rect class="bx" x="-70.9" width="141.8" height="78.66"/><rect class="hg" x="-68.9" y="2" width="137.8" height="24.5"/>
<text class="ti" y="19.5">Project_3</text>
<text y="46.07"><tspan x="0">ws_warehouse_sk</tspan><tspan x="0" dy="25.33">ws_order_number</tspan></text>
</g>

<g id="Project_5" transform="translate(936.4,1504)">
<rect class="bx" x="-70.9" width="141.8" height="78.66"/><rect class="hg" x="-68.9" y="2" width="137.8" height="24.5"/>
<text class="ti" y="19.5">Project_5</text>
<text y="46.07"><tspan x="0">ws_warehouse_sk</tspan><tspan x="0" dy="25.33">ws_order_number</tspan></text>
</g>

<g id="Project_12" transform="translate(936.4,3265.3)">
<rect class="bx" x="-70.9" width="141.8" height="78.66"/><rect class="hg" x="-68.9" y="2" width="137.8" height="24.5"/>
<text class="ti" y="19.5">Project_12</text>
<text y="46.07"><tspan x="0">ws_warehouse_sk</tspan><tspan x="0" dy="25.33">ws_order_number</tspan></text>
</g>

<g id="Project_14" transform="translate(936.4,3784.2)">
<rect class="bx" x="-70.9" width="141.8" height="78.66"/><rect class="hg" x="-68.9" y="2" width="137.8" height="24.5"/>
<text class="ti" y="19.5">Project_14</text>
<text y="46.07"><tspan x="0">ws_warehouse_sk</tspan><tspan x="0" dy="25.33">ws_order_number</tspan></text>
</g>

<g id="Join_Inner_6" transform="translate(1332.25,1378.7)">
<rect class="bx" x="-70.75" width="141.5" height="129.32"/><rect class="hg" x="-68.75" y="2" width="137.5" height="24.5"/>
<text class="ti" y="19.5">Join_Inner_6</text>
<text y="46.07"><tspan x="0">ws_warehouse_sk</tspan><tspan x="0" dy="25.33">ws_order_number</tspan><tspan x="0" dy="25.33">ws_warehouse_sk</tspan><tspan x="0" dy="25.33">ws_order_number</tspan></text>
</g>

<g id="Join_Inner_15" transform="translate(1332.25,3267)">
<rect class="bx" x="-70.75" width="141.5" height="129.32"/><rect class="hg" x="-68.75" y="2" width="137.5" height="24.5"/>
<text class="ti" y="19.5">Join_Inner_15</text>
<text y="46.07"><tspan x="0">ws_warehouse_sk</tspan><tspan x="0" dy="25.33">ws_order_number</tspan><tspan x="0" dy="25.33">ws_warehouse_sk</tspan><tspan x="0" dy="25.33">ws_order_number</tspan></text>
</g>

<g id="default.web_returns" transform="translate(936.8,1630.7)">
<rect class="bx" x="-102.1" width="204.2" height="635.92"/><rect class="hp" x="-100.1" y="2" width="200.2" height="24.5"/>
<text class="ti" y="19.5">default.web_returns</text>
<text y="46.07"><tspan x="0">wr_returned_date_sk</tspan><tspan x="0" dy="25.33">wr_returned_time_sk</tspan><tspan x="0" dy="25.33">wr_item_sk</tspan><tspan x="0" dy="25.33">wr_refunded_customer_sk</tspan><tspan x="0" dy="25.33">wr_refunded_cdemo_sk</tspan><tspan x="0" dy="25.33">wr_refunded_hdemo_sk</tspan><tspan x="0" dy="25.33">wr_refunded_addr_sk</tspan><tspan x="0" dy="25.33">wr_returning_customer_sk</tspan><tspan x="0" dy="25.33">wr_returning_cdemo_sk</tspan><tspan x="0" dy="25.33">wr_returning_hdemo_sk</tspan><tspan x="0" dy="25.33">wr_returning_addr_sk</tspan><tspan x="0" dy="25.33">wr_web_page_sk</tspan><tspan x="0" dy="25.33">wr_reason_sk</tspan><tspan x="0" dy="25.33">wr_order_number</tspan><tspan x="0" dy="25.33">wr_return_quantity</tspan><tspan x="0" dy="25.33">wr_return_amt</tspan><tspan x="0" dy="25.33">wr_return_tax</tspan><tspan x="0" dy="25.33">wr_return_amt_inc_tax</tspan><tspan x="0" dy="25.33">wr_fee</tspan><tspan x="0" dy="25.33">wr_return_ship_cost</tspan><tspan x="0" dy="25.33">wr_refunded_cash</tspan><tspan x="0" dy="25.33">wr_reversed_charge</tspan><tspan x="0" dy="25.33">wr_account_credit</tspan><tspan x="0" dy="25.33">wr_net_loss</tspan></text>
</g>

<g id="Filter_9" transform="translate(1332.45,1630.7)">
<rect class="bx" x="-102.05" width="204.1" height="635.92"/><rect class="hg" x="-100.05" y="2" width="200.1" height="24.5"/>
<text class="ti" y="19.5">Filter_9</text>
<text y="46.07"><tspan x="0">wr_returned_date_sk</tspan><tspan x="0" dy="25.33">wr_returned_time_sk</tspan><tspan x="0" dy="25.33">wr_item_sk</tspan><tspan x="0" dy="25.33">wr_refunded_customer_sk</tspan><tspan x="0" dy="25.33">wr_refunded_cdemo_sk</tspan><tspan x="0" dy="25.33">wr_refunded_hdemo_sk</tspan><tspan x="0" dy="25.33">wr_refunded_addr_sk</tspan><tspan x="0" dy="25.33">wr_returning_customer_sk</tspan><tspan x="0" dy="25.33">wr_returning_cdemo_sk</tspan><tspan x="0" dy="25.33">wr_returning_hdemo_sk</tspan><tspan x="0" dy="25.33">wr_returning_addr_sk</tspan><tspan x="0" dy="25.33">wr_web_page_sk</tspan><tspan x="0" dy="25.33">wr_reason_sk</tspan><tspan x="0" dy="25.33">wr_order_number</tspan><tspan x="0" dy="25.33">wr_return_quantity</tspan><tspan x="0" dy="25.33">wr_return_amt</tspan><tspan x="0" dy="25.33">wr_return_tax</tspan><tspan x="0" dy="25.33">wr_return_amt_inc_tax</tspan><tspan x="0" dy="25.33">wr_fee</tspan><tspan x="0" dy="25.33">wr_return_ship_cost</tspan><tspan x="0" dy="25.33">wr_refunded_cash</tspan><tspan x="0" dy="25.33">wr_reversed_charge</tspan><tspan x="0" dy="25.33">wr_account_credit</tspan><tspan x="0" dy="25.33">wr_net_loss</tspan></text>
</g>

<g id="Project_7" transform="translate(1719.2,1089.3)">
<rect class="bx" x="-92.4" width="184.8" height="53.33"/><rect class="hg" x="-90.4" y="2" width="180.8" height="24.5"/>
<text class="ti" y="19.5">Project_7</text>
<text y="46.07">ws_order_number#7406</text>
</g>

<g id="Project_10" transform="translate(1719.15,1812.5)">
<rect class="bx" x="-69.85" width="139.7" height="53.33"/><rect class="hg" x="-67.85" y="2" width="135.7" height="24.5"/>
<text class="ti" y="19.5">Project_10</text>
<text y="46.07">wr_order_number</text>
</g>

<g id="Project_16" transform="translate(1719.15,2524.5)">
<rect class="bx" x="-69.85" width="139.7" height="53.33"/><rect class="hg" x="-67.85" y="2" width="135.7" height="24.5"/>
<text class="ti" y="19.5">Project_16</text>
<text y="46.07">ws_order_number</text>
</g>

<g id="Join_LeftSemi_8" transform="translate(2083.9,874.3)">
<rect class="bx" x="-70.6" width="141.2" height="179.98"/><rect class="hg" x="-68.6" y="2" width="137.2" height="24.5"/>
<text class="ti" y="19.5">Join_LeftSemi_8</text>
<text y="46.07"><tspan x="0">ws_ship_date_sk</tspan><tspan x="0" dy="25.33">ws_ship_addr_sk</tspan><tspan x="0" dy="25.33">ws_web_site_sk</tspan><tspan x="0" dy="25.33">ws_order_number</tspan><tspan x="0" dy="25.33">ws_ext_ship_cost</tspan><tspan x="0" dy="25.33">ws_net_profit</tspan></text>
</g>

<g id="Join_Inner_17" transform="translate(2083.75,1677.4)">
<rect class="bx" x="-70.75" width="141.5" height="78.66"/><rect class="hg" x="-68.75" y="2" width="137.5" height="24.5"/>
<text class="ti" y="19.5">Join_Inner_17</text>
<text y="46.07"><tspan x="0">wr_order_number</tspan><tspan x="0" dy="25.33">ws_order_number</tspan></text>
</g>

<g id="Project_18" transform="translate(2435.8,1272.5)">
<rect class="bx" x="-70.1" width="140.2" height="53.33"/><rect class="hg" x="-68.1" y="2" width="136.2" height="24.5"/>
<text class="ti" y="19.5">Project_18</text>
<text y="46.07">wr_order_number</text>
</g>

<g id="default.date_dim" transform="translate(2084.1,1804)">
<rect class="bx" x="-79.8" width="159.6" height="737.24"/><rect class="hp" x="-77.8" y="2" width="155.6" height="24.5"/>
<text class="ti" y="19.5">default.date_dim</text>
<text y="46.07"><tspan x="0">d_date_sk</tspan><tspan x="0" dy="25.33">d_date_id</tspan><tspan x="0" dy="25.33">d_date</tspan><tspan x="0" dy="25.33">d_month_seq</tspan><tspan x="0" dy="25.33">d_week_seq</tspan><tspan x="0" dy="25.33">d_quarter_seq</tspan><tspan x="0" dy="25.33">d_year</tspan><tspan x="0" dy="25.33">d_dow</tspan><tspan x="0" dy="25.33">d_moy</tspan><tspan x="0" dy="25.33">d_dom</tspan><tspan x="0" dy="25.33">d_qoy</tspan><tspan x="0" dy="25.33">d_fy_year</tspan><tspan x="0" dy="25.33">d_fy_quarter_seq</tspan><tspan x="0" dy="25.33">d_fy_week_seq</tspan><tspan x="0" dy="25.33">d_day_name</tspan><tspan x="0" dy="25.33">d_quarter_name</tspan><tspan x="0" dy="25.33">d_holiday</tspan><tspan x="0" dy="25.33">d_weekend</tspan><tspan x="0" dy="25.33">d_following_holiday</tspan><tspan x="0" dy="25.33">d_first_dom</tspan><tspan x="0" dy="25.33">d_last_dom</tspan><tspan x="0" dy="25.33">d_same_day_ly</tspan><tspan x="0" dy="25.33">d_same_day_lq</tspan><tspan x="0" dy="25.33">d_current_day</tspan><tspan x="0" dy="25.33">d_current_week</tspan><tspan x="0" dy="25.33">d_current_month</tspan><tspan x="0" dy="25.33">d_current_quarter</tspan><tspan x="0" dy="25.33">d_current_year</tspan></text>
</g>

<g id="Filter_20" transform="translate(2436.1,1804)">
<rect class="bx" x="-79.8" width="159.6" height="737.24"/><rect class="hg" x="-77.8" y="2" width="155.6" height="24.5"/>
<text class="ti" y="19.5">Filter_20</text>
<text y="46.07"><tspan x="0">d_date_sk</tspan><tspan x="0" dy="25.33">d_date_id</tspan><tspan x="0" dy="25.33">d_date</tspan><tspan x="0" dy="25.33">d_month_seq</tspan><tspan x="0" dy="25.33">d_week_seq</tspan><tspan x="0" dy="25.33">d_quarter_seq</tspan><tspan x="0" dy="25.33">d_year</tspan><tspan x="0" dy="25.33">d_dow</tspan><tspan x="0" dy="25.33">d_moy</tspan><tspan x="0" dy="25.33">d_dom</tspan><tspan x="0" dy="25.33">d_qoy</tspan><tspan x="0" dy="25.33">d_fy_year</tspan><tspan x="0" dy="25.33">d_fy_quarter_seq</tspan><tspan x="0" dy="25.33">d_fy_week_seq</tspan><tspan x="0" dy="25.33">d_day_name</tspan><tspan x="0" dy="25.33">d_quarter_name</tspan><tspan x="0" dy="25.33">d_holiday</tspan><tspan x="0" dy="25.33">d_weekend</tspan><tspan x="0" dy="25.33">d_following_holiday</tspan><tspan x="0" dy="25.33">d_first_dom</tspan><tspan x="0" dy="25.33">d_last_dom</tspan><tspan x="0" dy="25.33">d_same_day_ly</tspan><tspan x="0" dy="25.33">d_same_day_lq</tspan><tspan x="0" dy="25.33">d_current_day</tspan><tspan x="0" dy="25.33">d_current_week</tspan><tspan x="0" dy="25.33">d_current_month</tspan><tspan x="0" dy="25.33">d_current_quarter</tspan><tspan x="0" dy="25.33">d_current_year</tspan></text>
</g>

<g id="Join_LeftSemi_19" transform="translate(2805.1,1021)">
<rect class="bx" x="-70.3" width="140.6" height="179.98"/><rect class="hg" x="-68.3" y="2" width="136.6" height="24.5"/>
<text class="ti" y="19.5">Join_LeftSemi_19</text>
<text y="46.07"><tspan x="0">ws_ship_date_sk</tspan><tspan x="0" dy="25.33">ws_ship_addr_sk</tspan><tspan x="0" dy="25.33">ws_web_site_sk</tspan><tspan x="0" dy="25.33">ws_order_number</tspan><tspan x="0" dy="25.33">ws_ext_ship_cost</tspan><tspan x="0" dy="25.33">ws_net_profit</tspan></text>
</g>

<g id="Project_21" transform="translate(2805.15,1249.3)">
<rect class="bx" x="-44.75" width="89.5" height="53.33"/><rect class="hg" x="-42.75" y="2" width="85.5" height="24.5"/>
<text class="ti" y="19.5">Project_21</text>
<text y="46.07">d_date_sk</text>
</g>

<g id="default.customer_address" transform="translate(2805.1,1351)">
<rect class="bx" x="-97.2" width="194.4" height="357.29"/><rect class="hp" x="-95.2" y="2" width="190.4" height="24.5"/>
<text class="ti" y="19.5">default.customer_address</text>
<text y="46.07"><tspan x="0">ca_address_sk</tspan><tspan x="0" dy="25.33">ca_address_id</tspan><tspan x="0" dy="25.33">ca_street_number</tspan><tspan x="0" dy="25.33">ca_street_name</tspan><tspan x="0" dy="25.33">ca_street_type</tspan><tspan x="0" dy="25.33">ca_suite_number</tspan><tspan x="0" dy="25.33">ca_city</tspan><tspan x="0" dy="25.33">ca_county</tspan><tspan x="0" dy="25.33">ca_state</tspan><tspan x="0" dy="25.33">ca_zip</tspan><tspan x="0" dy="25.33">ca_country</tspan><tspan x="0" dy="25.33">ca_gmt_offset</tspan><tspan x="0" dy="25.33">ca_location_type</tspan></text>
</g>

<g id="Join_Inner_22" transform="translate(3165.35,1021)">
<rect class="bx" x="-70.35" width="140.7" height="205.31"/><rect class="hg" x="-68.35" y="2" width="136.7" height="24.5"/>
<text class="ti" y="19.5">Join_Inner_22</text>
<text y="46.07"><tspan x="0">ws_ship_date_sk</tspan><tspan x="0" dy="25.33">ws_ship_addr_sk</tspan><tspan x="0" dy="25.33">ws_web_site_sk</tspan><tspan x="0" dy="25.33">ws_order_number</tspan><tspan x="0" dy="25.33">ws_ext_ship_cost</tspan><tspan x="0" dy="25.33">ws_net_profit</tspan><tspan x="0" dy="25.33">d_date_sk</tspan></text>
</g>

<g id="Filter_24" transform="translate(3165.1,1351)">
<rect class="bx" x="-68.7" width="137.4" height="357.29"/><rect class="hg" x="-66.7" y="2" width="133.4" height="24.5"/>
<text class="ti" y="19.5">Filter_24</text>
<text y="46.07"><tspan x="0">ca_address_sk</tspan><tspan x="0" dy="25.33">ca_address_id</tspan><tspan x="0" dy="25.33">ca_street_number</tspan><tspan x="0" dy="25.33">ca_street_name</tspan><tspan x="0" dy="25.33">ca_street_type</tspan><tspan x="0" dy="25.33">ca_suite_number</tspan><tspan x="0" dy="25.33">ca_city</tspan><tspan x="0" dy="25.33">ca_county</tspan><tspan x="0" dy="25.33">ca_state</tspan><tspan x="0" dy="25.33">ca_zip</tspan><tspan x="0" dy="25.33">ca_country</tspan><tspan x="0" dy="25.33">ca_gmt_offset</tspan><tspan x="0" dy="25.33">ca_location_type</tspan></text>
</g>

<g id="Project_23" transform="translate(3512.95,1046.3)">
<rect class="bx" x="-70.55" width="141.1" height="154.65"/><rect class="hg" x="-68.55" y="2" width="137.1" height="24.5"/>
<text class="ti" y="19.5">Project_23</text>
<text y="46.07"><tspan x="0">ws_ship_addr_sk</tspan><tspan x="0" dy="25.33">ws_web_site_sk</tspan><tspan x="0" dy="25.33">ws_order_number</tspan><tspan x="0" dy="25.33">ws_ext_ship_cost</tspan><tspan x="0" dy="25.33">ws_net_profit</tspan></text>
</g>

<g id="Project_25" transform="translate(3513.1,1249.7)">
<rect class="bx" x="-56.9" width="113.8" height="53.33"/><rect class="hg" x="-54.9" y="2" width="109.8" height="24.5"/>
<text class="ti" y="19.5">Project_25</text>
<text y="46.07">ca_address_sk</text>
</g>

<g id="default.web_site" transform="translate(3513.15,1351.7)">
<rect class="bx" x="-85.45" width="170.9" height="686.58"/><rect class="hp" x="-83.45" y="2" width="166.9" height="24.5"/>
<text class="ti" y="19.5">default.web_site</text>
<text y="46.07"><tspan x="0">web_site_sk</tspan><tspan x="0" dy="25.33">web_site_id</tspan><tspan x="0" dy="25.33">web_rec_start_date</tspan><tspan x="0" dy="25.33">web_rec_end_date</tspan><tspan x="0" dy="25.33">web_name</tspan><tspan x="0" dy="25.33">web_open_date_sk</tspan><tspan x="0" dy="25.33">web_close_date_sk</tspan><tspan x="0" dy="25.33">web_class</tspan><tspan x="0" dy="25.33">web_manager</tspan><tspan x="0" dy="25.33">web_mkt_id</tspan><tspan x="0" dy="25.33">web_mkt_class</tspan><tspan x="0" dy="25.33">web_mkt_desc</tspan><tspan x="0" dy="25.33">web_market_manager</tspan><tspan x="0" dy="25.33">web_company_id</tspan><tspan x="0" dy="25.33">web_company_name</tspan><tspan x="0" dy="25.33">web_street_number</tspan><tspan x="0" dy="25.33">web_street_name</tspan><tspan x="0" dy="25.33">web_street_type</tspan><tspan x="0" dy="25.33">web_suite_number</tspan><tspan x="0" dy="25.33">web_city</tspan><tspan x="0" dy="25.33">web_county</tspan><tspan x="0" dy="25.33">web_state</tspan><tspan x="0" dy="25.33">web_zip</tspan><tspan x="0" dy="25.33">web_country</tspan><tspan x="0" dy="25.33">web_gmt_offset</tspan><tspan x="0" dy="25.33">web_tax_percentage</tspan></text>
</g>

<g id="Join_Inner_26" transform="translate(3875.7,1046.3)">
<rect class="bx" x="-70.7" width="141.4" height="179.98"/><rect class="hg" x="-68.7" y="2" width="137.4" height="24.5"/>
<text class="ti" y="19.5">Join_Inner_26</text>
<text y="46.07"><tspan x="0">ws_ship_addr_sk</tspan><tspan x="0" dy="25.33">ws_web_site_sk</tspan><tspan x="0" dy="25.33">ws_order_number</tspan><tspan x="0" dy="25.33">ws_ext_ship_cost</tspan><tspan x="0" dy="25.33">ws_net_profit</tspan><tspan x="0" dy="25.33">ca_address_sk</tspan></text>
</g>

<g id="Filter_28" transform="translate(3875.8,1351.7)">
<rect class="bx" x="-85.2" width="170.4" height="686.58"/><rect class="hg" x="-83.2" y="2" width="166.4" height="24.5"/>
<text class="ti" y="19.5">Filter_28</text>
<text y="46.07"><tspan x="0">web_site_sk</tspan><tspan x="0" dy="25.33">web_site_id</tspan><tspan x="0" dy="25.33">web_rec_start_date</tspan><tspan x="0" dy="25.33">web_rec_end_date</tspan><tspan x="0" dy="25.33">web_name</tspan><tspan x="0" dy="25.33">web_open_date_sk</tspan><tspan x="0" dy="25.33">web_close_date_sk</tspan><tspan x="0" dy="25.33">web_class</tspan><tspan x="0" dy="25.33">web_manager</tspan><tspan x="0" dy="25.33">web_mkt_id</tspan><tspan x="0" dy="25.33">web_mkt_class</tspan><tspan x="0" dy="25.33">web_mkt_desc</tspan><tspan x="0" dy="25.33">web_market_manager</tspan><tspan x="0" dy="25.33">web_company_id</tspan><tspan x="0" dy="25.33">web_company_name</tspan><tspan x="0" dy="25.33">web_street_number</tspan><tspan x="0" dy="25.33">web_street_name</tspan><tspan x="0" dy="25.33">web_street_type</tspan><tspan x="0" dy="25.33">web_suite_number</tspan><tspan x="0" dy="25.33">web_city</tspan><tspan x="0" dy="25.33">web_county</tspan><tspan x="0" dy="25.33">web_state</tspan><tspan x="0" dy="25.33">web_zip</tspan><tspan x="0" dy="25.33">web_country</tspan><tspan x="0" dy="25.33">web_gmt_offset</tspan><tspan x="0" dy="25.33">web_tax_percentage</tspan></text>
</g>

<g id="Project_27" transform="translate(4223.85,1071.6)">
<rect class="bx" x="-70.75" width="141.5" height="129.32"/><rect class="hg" x="-68.75" y="2" width="137.5" height="24.5"/>
<text class="ti" y="19.5">Project_27</text>
<text y="46.07"><tspan x="0">ws_web_site_sk</tspan><tspan x="0" dy="25.33">ws_order_number</tspan><tspan x="0" dy="25.33">ws_ext_ship_cost</tspan><tspan x="0" dy="25.33">ws_net_profit</tspan></text>
</g>

<g id="Project_29" transform="translate(4223.9,1300.7)">
<rect class="bx" x="-48.9" width="97.8" height="53.33"/><rect class="hg" x="-46.9" y="2" width="93.8" height="24.5"/>
<text class="ti" y="19.5">Project_29</text>
<text y="46.07">web_site_sk</text>
</g>

<g id="Join_Inner_30" transform="translate(4557.1,1071.6)">
<rect class="bx" x="-70.5" width="141" height="154.65"/><rect class="hg" x="-68.5" y="2" width="137" height="24.5"/>
<text class="ti" y="19.5">Join_Inner_30</text>
<text y="46.07"><tspan x="0">ws_web_site_sk</tspan><tspan x="0" dy="25.33">ws_order_number</tspan><tspan x="0" dy="25.33">ws_ext_ship_cost</tspan><tspan x="0" dy="25.33">ws_net_profit</tspan><tspan x="0" dy="25.33">web_site_sk</tspan></text>
</g>

<g id="Project_31" transform="translate(4890.25,1097)">
<rect class="bx" x="-71.25" width="142.5" height="103.99"/><rect class="hg" x="-69.25" y="2" width="138.5" height="24.5"/>
<text class="ti" y="19.5">Project_31</text>
<text y="46.07"><tspan x="0">ws_order_number</tspan><tspan x="0" dy="25.33">ws_ext_ship_cost</tspan><tspan x="0" dy="25.33">ws_net_profit</tspan></text>
</g>

<g id="Aggregate_32" transform="translate(5226.25,1097)">
<rect class="bx" x="-73.45" width="146.9" height="103.99"/><rect class="hg" x="-71.45" y="2" width="142.9" height="24.5"/>
<text class="ti" y="19.5">Aggregate_32</text>
<text y="46.07"><tspan x="0">order count</tspan><tspan x="0" dy="25.33">total shipping cost</tspan><tspan x="0" dy="25.33">total net profit</tspan></text>
</g>

<g id="Sort_33" transform="translate(5564.9,1097)">
<rect class="bx" x="-73.1" width="146.2" height="103.99"/><rect class="hg" x="-71.1" y="2" width="142.2" height="24.5"/>
<text class="ti" y="19.5">Sort_33</text>
<text y="46.07"><tspan x="0">order count</tspan><tspan x="0" dy="25.33">total shipping cost</tspan><tspan x="0" dy="25.33">total net profit</tspan></text>
</g>

<g id="v" transform="translate(5903.6,1097)">
<rect class="bx" x="-72.7" width="145.4" height="103.99"/><rect class="hy" x="-70.7" y="2" width="141.4" height="24.5"/>
<text class="ti" y="19.5">v</text>
<text y="46.07"><tspan x="0">order count</tspan><tspan x="0" dy="25.33">total shipping cost</tspan><tspan x="0" dy="25.33">total net profit</tspan></text>
</g>
</g>
</svg>
